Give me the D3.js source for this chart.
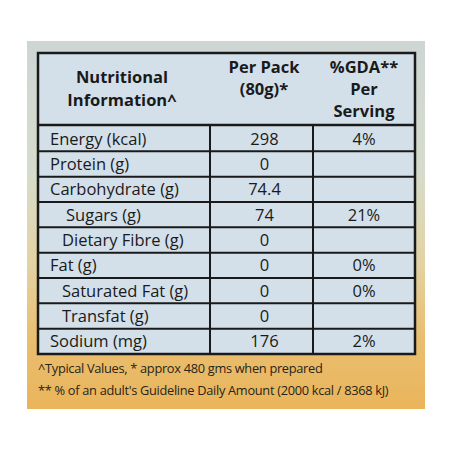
<!DOCTYPE html><html><head><meta charset="utf-8">
<script src="https://cdn.jsdelivr.net/npm/d3@7"></script>
<style>body{margin:0;background:#fff}</style></head><body><svg id="c" width="450" height="450"></svg>
<script>
const nutrients=["Energy (kcal)","Protein (g)","Carbohydrate (g)","Sugars (g)","Dietary Fibre (g)","Fat (g)","Saturated Fat (g)","Transfat (g)","Sodium (mg)"];
const indents=[0,0,0,1,1,0,1,1,0];
const perPack=["298","0","74.4","74","0","0","0","0","176"];
const gda=["4%","","","21%","","0%","0%","","2%"];
const headers=[["Nutritional","Information^"],["Per Pack","(80g)*"],["%GDA**","Per","Serving"]];
const footnotes=["^Typical Values,  * approx 480 gms when prepared","** % of an adult's Guideline Daily Amount (2000 kcal / 8368 kJ)"];

const svg=d3.select("#c");
const defs=svg.append("defs");
const g=defs.append("linearGradient").attr("id","bg").attr("x1",0).attr("y1",0).attr("x2",0).attr("y2",1);
[[0,"#cdd6d4"],[0.35,"#d6dccc"],[0.6,"#e3d3a4"],[0.8,"#e9bf72"],[1,"#eab45a"]].forEach(s=>g.append("stop").attr("offset",s[0]).attr("stop-color",s[1]));
svg.append("rect").attr("x",27).attr("y",41).attr("width",398).attr("height",368).attr("fill","url(#bg)");

const x=d3.scaleOrdinal().domain([0,1,2,3]).range([38,210,313,415]);
const y=d3.scaleBand().domain(d3.range(nutrients.length)).range([126,354]);
const font="'Open Sans', 'Noto Sans', sans-serif";
svg.append("rect").attr("x",38).attr("y",53).attr("width",377).attr("height",301).attr("fill","#d3e0ea").attr("stroke","#1a1a1a").attr("stroke-width",2.5);
svg.append("line").attr("x1",38).attr("x2",415).attr("y1",125).attr("y2",125).attr("stroke","#1a1a1a").attr("stroke-width",2.5);
svg.selectAll("line.r").data(d3.range(1,nutrients.length)).join("line").attr("x1",38).attr("x2",415).attr("y1",i=>y(i)).attr("y2",i=>y(i)).attr("stroke","#1a1a1a").attr("stroke-width",2);
[1,2].forEach(c=>svg.append("line").attr("x1",x(c)).attr("x2",x(c)).attr("y1",125).attr("y2",354).attr("stroke","#1a1a1a").attr("stroke-width",2));

const hx=[122,264,364], hy=[[83,106],[73,95],[73,95,117]];
headers.forEach((h,c)=>h.forEach((t,k)=>svg.append("text").attr("x",hx[c]).attr("y",hy[c][k]).attr("text-anchor","middle").attr("font-family",font).attr("font-weight","bold").attr("font-size",16.5).attr("fill","#1a1a1a").text(t)));

const tx=t=>svg.append("text").attr("font-family",font).attr("font-size",16.5).attr("fill","#1a1a1a");
nutrients.forEach((n,i)=>{
  const cy=y(i)+y.bandwidth()/2+6;
  tx().attr("x",50+indents[i]*12+(i===3?4:0)).attr("y",cy).text(n);
  tx().attr("x",(x(1)+x(2))/2+3).attr("y",cy).attr("text-anchor","middle").text(perPack[i]);
  tx().attr("x",(x(2)+x(3))/2).attr("y",cy).attr("text-anchor","middle").text(gda[i]);
});
footnotes.forEach((f,i)=>svg.append("text").attr("x",38).attr("y",373+i*22).attr("font-family",font).attr("font-size",12.8).attr("letter-spacing",-0.3).attr("fill","#2a2418").text(f));
</script></body></html>
